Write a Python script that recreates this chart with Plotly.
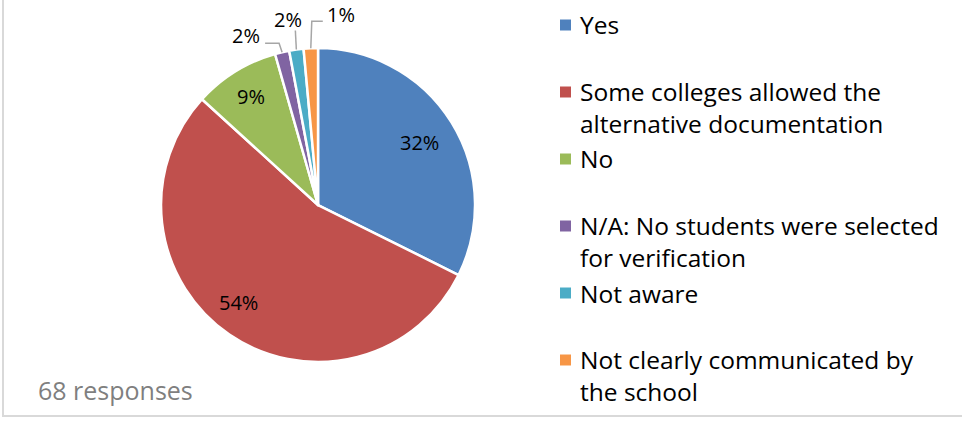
import math
import plotly.graph_objects as go

labels = ["Yes", "Some colleges allowed the<br>alternative documentation", "No",
          "N/A: No students were selected<br>for verification", "Not aware",
          "Not clearly communicated by<br>the school"]
counts = [22, 37, 6, 1, 1, 1]
pct_text = ["32%", "54%", "9%", "2%", "2%", "1%"]
colors = ["#4F81BD", "#C0504D", "#9BBB59", "#8064A2", "#4BACC6", "#F79646"]

W, H = 962, 421
dom_x = [0.1674, 0.4938]
dom_y = [0.140, 0.886]

# styling for label placement (Excel "best fit" look)
inside_frac = [0.76, 0.80, 0.81]          # radial fraction for inside labels
inside_rot = [0, 5, 0]                    # small angular nudge (degrees)
small_offsets = [(-36, -17, "left"), (-8, -30, "up"), (30, -34, "right")]
LEG_TOP, LEG_PITCH, LEG_MARK_X, LEG_TEXT_X, LEG_FONT = 25, 67, 560, 578, 24.5
LEG_LH = 1.3 * LEG_FONT

fig = go.Figure(go.Pie(
    labels=labels, values=counts, textinfo="none",
    sort=False, direction="clockwise", rotation=0,
    marker=dict(colors=colors, line=dict(color="white", width=2.5)),
    domain=dict(x=dom_x, y=dom_y),
    hoverinfo="label+percent", showlegend=False,
))

cx = (dom_x[0] + dom_x[1]) / 2 * W
cy = (1 - (dom_y[0] + dom_y[1]) / 2) * H
R = min((dom_x[1] - dom_x[0]) * W, (dom_y[1] - dom_y[0]) * H) / 2
total = sum(counts)

def px2paper(x, y):
    return x / W, 1 - y / H

cum = 0
for i, v in enumerate(counts):
    mid = (cum + v / 2) / total * 2 * math.pi
    cum += v
    if i < 3:
        a = mid + math.radians(inside_rot[i])
        r = R * inside_frac[i]
        x, y = px2paper(cx + r * math.sin(a), cy - r * math.cos(a))
    else:
        sx, sy = math.sin(mid), -math.cos(mid)
        dx, dy, kind = small_offsets[i - 3]
        ex, ey = cx + R * sx, cy + R * sy
        lx, ly = ex + dx, ey + dy
        if kind == "left":
            pts = [(ex, ey), (ex - 3, ly + 8), (lx + 19, ly + 8)]
        elif kind == "right":
            pts = [(ex, ey), (ex + 1, ly + 7), (lx - 18, ly + 7)]
        else:
            pts = [(ex, ey), (ex - 1, ly + 11)]
        path = "M " + " L ".join(f"{px2paper(a, b)[0]},{px2paper(a, b)[1]}" for a, b in pts)
        fig.add_shape(type="path", path=path, xref="paper", yref="paper",
                      line=dict(color="#A6A6A6", width=1.5))
        x, y = px2paper(lx, ly)
    fig.add_annotation(text=pct_text[i], x=x, y=y, xref="paper", yref="paper",
                       xanchor="center", yanchor="middle", showarrow=False,
                       font=dict(family="Open Sans", size=20, color="black"))

# legend (Excel style: equal slots, marker beside first line)
for i, (lab, col) in enumerate(zip(labels, colors)):
    yc = LEG_TOP + i * LEG_PITCH
    nlines = lab.count("<br>") + 1
    x0, y0 = px2paper(LEG_MARK_X, yc - 5.5)
    x1, y1 = px2paper(LEG_MARK_X + 11, yc + 5.5)
    fig.add_shape(type="rect", xref="paper", yref="paper", x0=x0, x1=x1, y0=y0, y1=y1,
                  line=dict(width=0), fillcolor=col)
    tx, ty = px2paper(LEG_TEXT_X, yc + (nlines - 1) * LEG_LH / 2)
    fig.add_annotation(text=lab, x=tx, y=ty, xref="paper", yref="paper",
                       xanchor="left", yanchor="middle", align="left", showarrow=False,
                       font=dict(family="Open Sans", size=LEG_FONT, color="black"))

fig.add_annotation(text="68 responses", x=36/W, y=1-390/H, xref="paper", yref="paper",
                   xanchor="left", yanchor="middle", showarrow=False,
                   font=dict(family="Open Sans", size=25, color="#7F7F7F"))

fig.add_shape(type="rect", xref="paper", yref="paper", x0=3/W, x1=1.05, y0=1-416/H, y1=1.05,
              line=dict(color="#D9D9D9", width=2), fillcolor="rgba(0,0,0,0)")

fig.update_layout(
    width=W, height=H, margin=dict(l=0, r=0, t=0, b=0, autoexpand=False),
    paper_bgcolor="white", plot_bgcolor="white",
    showlegend=False,
)
fig.write_html("out.html")
